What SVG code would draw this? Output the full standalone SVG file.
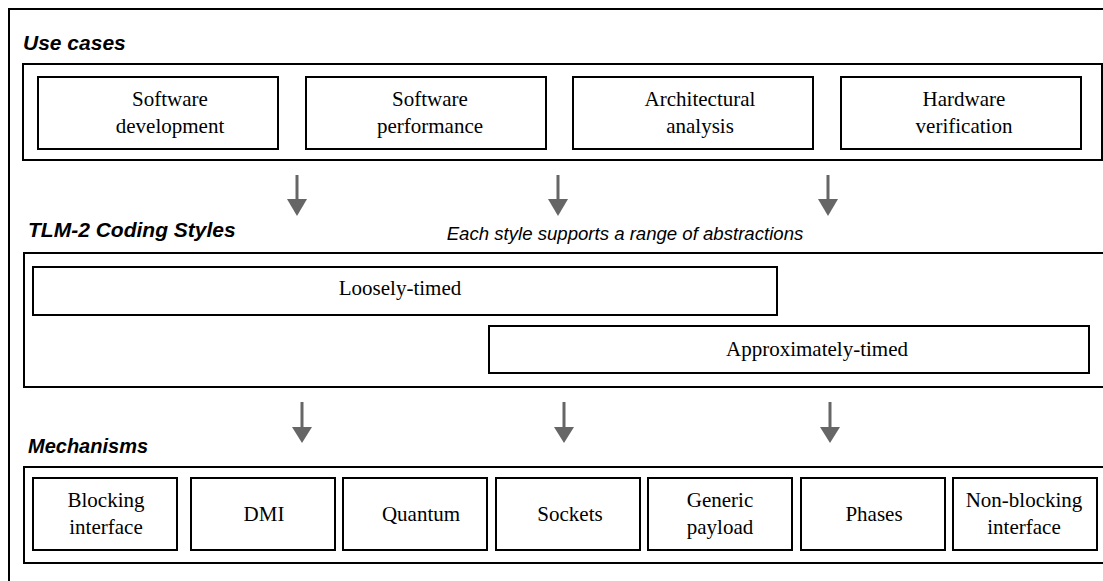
<svg xmlns="http://www.w3.org/2000/svg" width="1103" height="581" viewBox="0 0 1103 581">
<defs>
<style>
.frame{fill:none;stroke:#000;stroke-width:2}
.box{fill:#fff;stroke:#000;stroke-width:2}
.lbl{font-family:"Liberation Serif","Times New Roman",serif;font-size:21px;fill:#000;text-anchor:middle}
.title{font-family:"Liberation Sans",Arial,sans-serif;font-size:21px;font-weight:bold;font-style:italic;fill:#000}
.note{font-family:"Liberation Sans",Arial,sans-serif;font-size:18.6px;font-style:italic;fill:#000;text-anchor:middle}
.arr{stroke:#666;stroke-width:3;fill:none}
.head{fill:#666;stroke:none}
</style>
</defs>
<rect width="1103" height="581" fill="#fff"/>
<rect class="frame" x="9" y="9" width="1110" height="590"/>

<text class="title" x="23" y="50">Use cases</text>
<rect class="frame" x="23" y="64" width="1079" height="96"/>
<g id="uc-swdev"><rect class="box" x="38" y="77" width="240" height="72"/><text class="lbl" x="170" y="106">Software</text><text class="lbl" x="170" y="133">development</text></g>
<g id="uc-swperf"><rect class="box" x="306" y="77" width="240" height="72"/><text class="lbl" x="430" y="106">Software</text><text class="lbl" x="430" y="133">performance</text></g>
<g id="uc-arch"><rect class="box" x="573" y="77" width="240" height="72"/><text class="lbl" x="700" y="106">Architectural</text><text class="lbl" x="700" y="133">analysis</text></g>
<g id="uc-hwver"><rect class="box" x="841" y="77" width="240" height="72"/><text class="lbl" x="964" y="106">Hardware</text><text class="lbl" x="964" y="133">verification</text></g>

<text class="title" x="28" y="237">TLM-2 Coding Styles</text>
<text class="note" x="625" y="240">Each style supports a range of abstractions</text>
<rect class="frame" x="24" y="253" width="1100" height="134"/>
<g id="cs-lt"><rect class="box" x="33" y="267" width="744" height="48"/><text class="lbl" x="400" y="295">Loosely-timed</text></g>
<g id="cs-at"><rect class="box" x="489" y="326" width="600" height="47"/><text class="lbl" x="817" y="356">Approximately-timed</text></g>

<text class="title" x="28" y="453" style="font-size:20px">Mechanisms</text>
<rect class="frame" x="24" y="467" width="1100" height="96"/>
<g id="m-blocking"><rect class="box" x="33" y="478" width="144" height="72"/><text class="lbl" x="106" y="507">Blocking</text><text class="lbl" x="106" y="534">interface</text></g>
<g id="m-dmi"><rect class="box" x="191" y="478" width="144" height="72"/><text class="lbl" x="264" y="521">DMI</text></g>
<g id="m-quantum"><rect class="box" x="343" y="478" width="144" height="72"/><text class="lbl" x="421" y="521">Quantum</text></g>
<g id="m-sockets"><rect class="box" x="496" y="478" width="144" height="72"/><text class="lbl" x="570" y="521">Sockets</text></g>
<g id="m-payload"><rect class="box" x="648" y="478" width="144" height="72"/><text class="lbl" x="720" y="507">Generic</text><text class="lbl" x="720" y="534">payload</text></g>
<g id="m-phases"><rect class="box" x="801" y="478" width="144" height="72"/><text class="lbl" x="874" y="521">Phases</text></g>
<g id="m-nonblocking"><rect class="box" x="953" y="478" width="144" height="72"/><text class="lbl" x="1024" y="507">Non-blocking</text><text class="lbl" x="1024" y="534">interface</text></g>

<g id="connectors">
<line class="arr" x1="297" y1="175" x2="297" y2="200"/><polygon class="head" points="287,199 307,199 297,216"/>
<line class="arr" x1="558" y1="175" x2="558" y2="200"/><polygon class="head" points="548,199 568,199 558,216"/>
<line class="arr" x1="828" y1="175" x2="828" y2="200"/><polygon class="head" points="818,199 838,199 828,216"/>
<line class="arr" x1="302" y1="402" x2="302" y2="428"/><polygon class="head" points="292,427 312,427 302,443"/>
<line class="arr" x1="564" y1="402" x2="564" y2="428"/><polygon class="head" points="554,427 574,427 564,443"/>
<line class="arr" x1="830" y1="402" x2="830" y2="428"/><polygon class="head" points="820,427 840,427 830,443"/>
</g>
</svg>
